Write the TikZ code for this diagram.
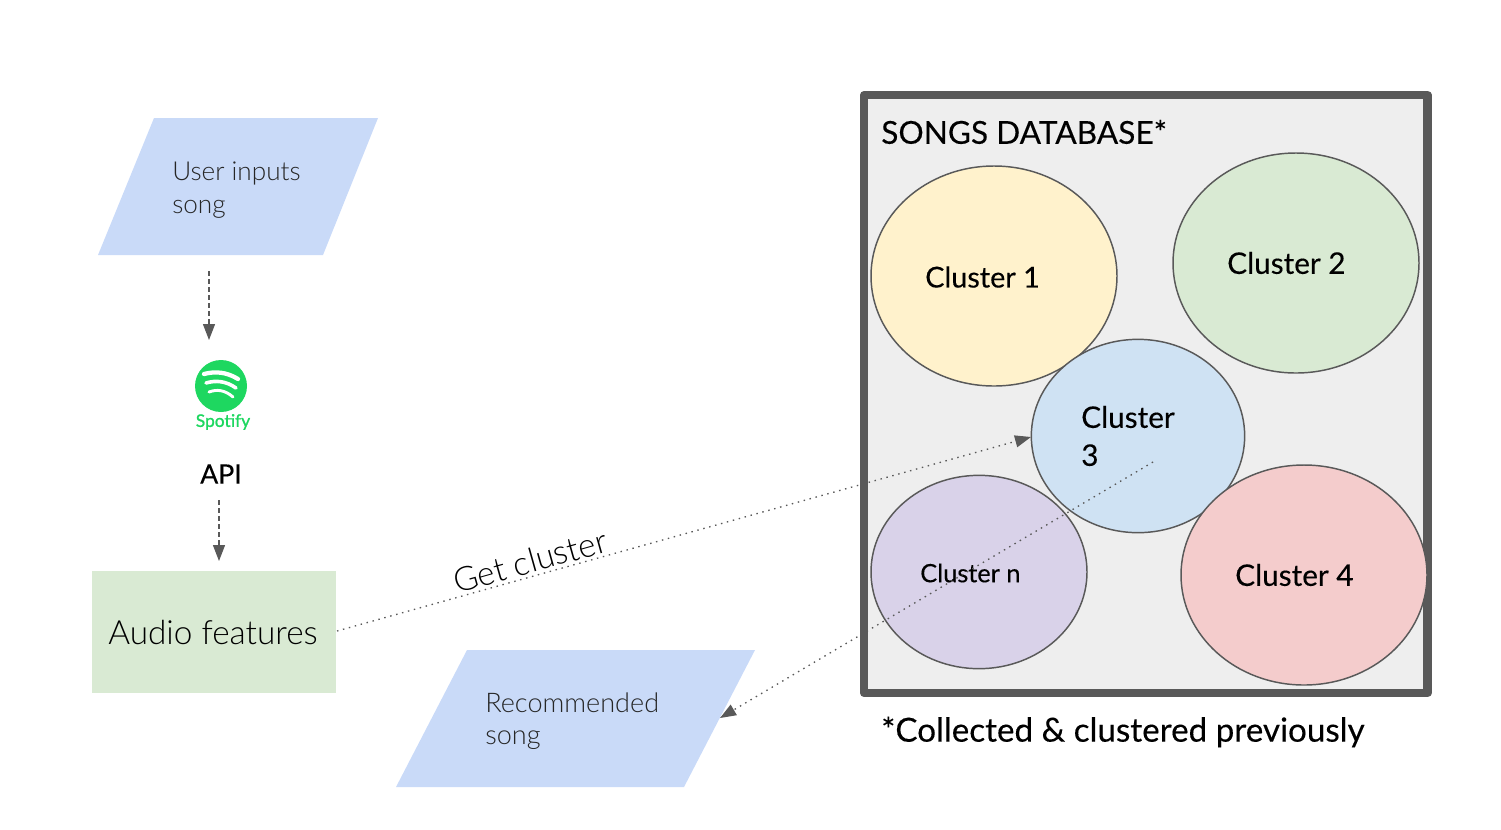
\documentclass[tikz,border=0pt]{standalone}
\usepackage{fontspec}
\setmainfont{Lato}
\newfontfamily\lightf{Lato Light}
\newfontfamily\medf{Lato}[FakeBold=0.25]
\newfontfamily\spotf{Lato}[FakeBold=1.2]
\usetikzlibrary{arrows.meta,calc,shapes.geometric}
\definecolor{inblue}{HTML}{C9DAF8}
\definecolor{fgreen}{HTML}{D9EAD3}
\definecolor{gry}{HTML}{595959}
\definecolor{dbbg}{HTML}{EEEEEE}
\definecolor{c1}{HTML}{FFF2CC}
\definecolor{c3}{HTML}{CFE2F3}
\definecolor{c4}{HTML}{F4CCCC}
\definecolor{cn}{HTML}{D9D2E9}
\definecolor{spot}{HTML}{1ED760}
\tikzset{
 x=0.75pt,y=-0.75pt,
 cluster/.style={draw=gry,line width=1.1pt,ellipse,inner sep=0pt},
 clabel/.style={font=\medf\fontsize{22.3}{28}\selectfont\color{black},align=left,anchor=west,inner sep=0pt},
 iolabel/.style={font=\lightf\fontsize{19.6}{24.5}\selectfont\color{black!85},align=left,anchor=west,inner sep=0pt},
 dashconn/.style={draw=gry,line width=1pt,dash pattern=on 3.6pt off 2.4pt,-{Triangle[length=12pt,width=9pt]}},
 dotconn/.style={draw=gry,line width=1pt,dash pattern=on 1.1pt off 3.5pt,-{Triangle[length=12pt,width=9pt]}},
}
\begin{document}
\begin{tikzpicture}
\useasboundingbox (0,0) rectangle (1501,829);
% input parallelogram
\fill[inblue] (154,118) -- (378,118) -- (323,255) -- (98,255) -- cycle;
\node[iolabel] (user) at (172,190) {User inputs\\song};
% arrows + spotify
\coordinate (userout) at (209,271);
\coordinate (spotin) at (209,340);
\draw[dashconn] (userout) -- (spotin);
\node[circle,fill=spot,minimum size=39pt,inner sep=0pt] (logo) at (221,386) {};
\foreach \dy/\w/\lw in {-9/17/3.2,0/15/2.7,9/12/2.2}{
 \draw[white,line width=\lw pt,line cap=round] ($(logo)+(-\w,\dy-3)$) .. controls ($(logo)+(-\w/3,\dy-6)$) and ($(logo)+(\w/3,\dy-5)$) .. ($(logo)+(\w,\dy+2)$);
}
\node[inner sep=0pt,font=\spotf\fontsize{13}{15}\selectfont,text=spot] (spotname) at (223,422) {Spotify};
\node[inner sep=0pt,font=\medf\fontsize{20}{24}\selectfont] (api) at (221,474) {API};
\coordinate (apiout) at (219,500);
\coordinate (audioin) at (219,561);
\draw[dashconn] (apiout) -- (audioin);
% audio features
\node[fill=fgreen,minimum width=183pt,minimum height=92pt,inner sep=0pt] (audio) at (213.5,632) {};
\node[font=\lightf\fontsize{25}{30}\selectfont,inner sep=0pt] (audiot) at (213,632) {Audio features};
% recommended
\fill[inblue] (467,650) -- (755,650) -- (684,787) -- (396,787) -- cycle;
\node[iolabel,font=\lightf\fontsize{20.3}{24.5}\selectfont\color{black!85}] (rec) at (485,721) {Recommended\\song};
\coordinate (recin) at (720,718);
% database
\draw[draw=gry,fill=dbbg,line width=6.2pt,line join=round] (864,95) rectangle (1427.5,693);
\node[font=\medf\fontsize{23.7}{28}\selectfont,inner sep=0pt,anchor=west] (dbt) at (881,132) {SONGS DATABASE*};
\node[cluster,fill=c1,minimum width=184.5pt,minimum height=165pt] (k1) at (994,276) {};
\node[cluster,fill=fgreen,minimum width=184.5pt,minimum height=165pt] (k2) at (1296,263) {};
\node[cluster,fill=c3,minimum width=160pt,minimum height=145pt] (k3) at (1138,436) {};
\node[cluster,fill=cn,minimum width=162pt,minimum height=145pt] (kn) at (979,572) {};
\node[cluster,fill=c4,minimum width=184.5pt,minimum height=165pt] (k4) at (1304,575) {};
\node[clabel,font=\medf\fontsize{21.6}{28}\selectfont] (l1) at (925,277) {Cluster 1};
\node[clabel] (l2) at (1227,263) {Cluster 2};
\node[clabel,font=\medf\fontsize{22.3}{28.5}\selectfont] (l3) at (1081,436) {Cluster\\3};
\node[clabel] (l4) at (1235,575) {Cluster 4};
\node[clabel,font=\medf\fontsize{19}{24}\selectfont] (ln) at (920,573) {Cluster n};
\node[font=\medf\fontsize{24.9}{28}\selectfont,inner sep=0pt,anchor=west] (note) at (881,732) {*Collected \& clustered previously};
% connectors
\coordinate (audioout) at (337,631);
\coordinate (k3in) at (1031,437);
\coordinate (k3c) at (1153,462);
\draw[dotconn] (audioout) -- (k3in);
\draw[dotconn] (k3c) -- (recin);
\node[font=\lightf\fontsize{25}{28}\selectfont,inner sep=0pt,rotate=15.7] (gc) at (530,561) {Get cluster};
\end{tikzpicture}
\end{document}
